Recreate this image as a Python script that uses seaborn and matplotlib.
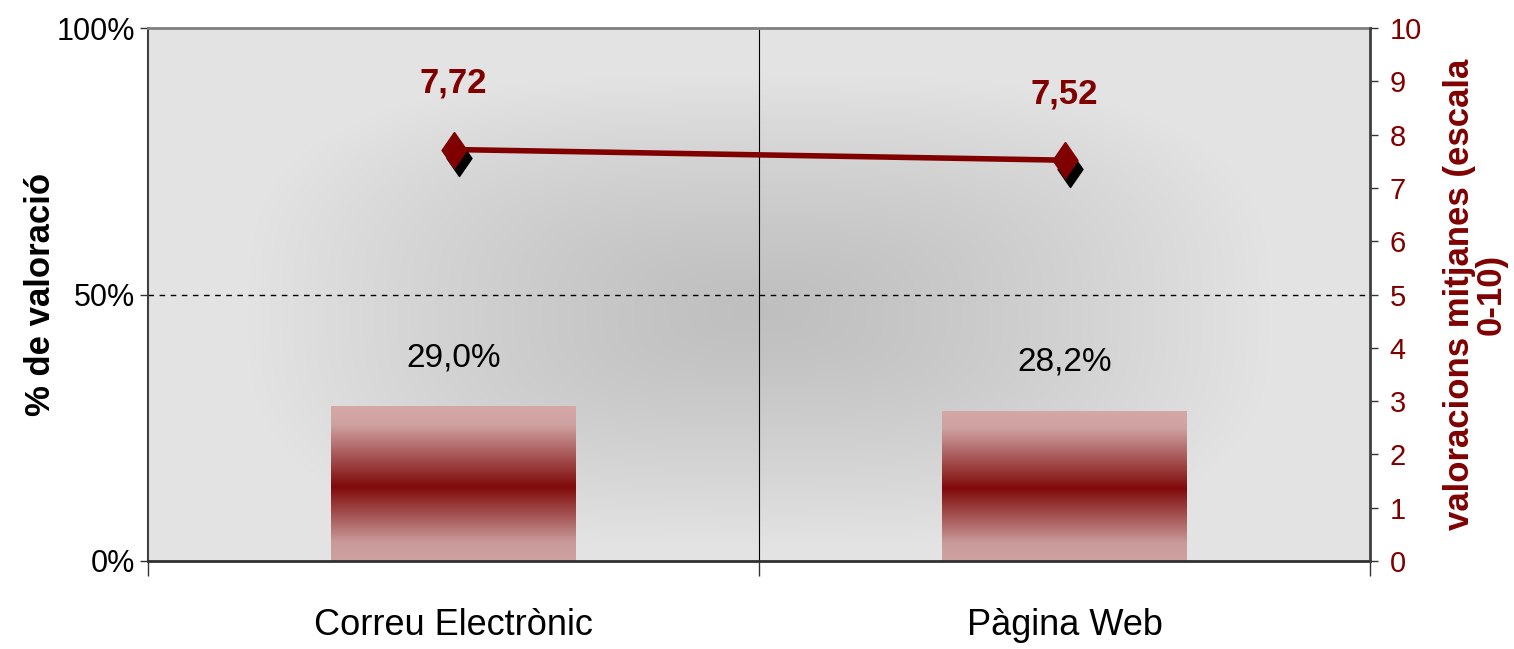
import numpy as np
import pandas as pd
import matplotlib
matplotlib.use("Agg")
import matplotlib.pyplot as plt
import seaborn as sns
from matplotlib.transforms import ScaledTranslation
from matplotlib.colors import LinearSegmentedColormap

# ---------------- data ----------------
categories = ["Correu Electrònic", "Pàgina Web"]
pct_values = [29.0, 28.2]
mean_scores = [7.72, 7.52]
left_ticks = [0, 50, 100]
left_tick_labels = ["0%", "50%", "100%"]
right_ticks = list(range(0, 11))

sns.set_style("white")
plt.rcParams['font.family'] = ['Liberation Sans', 'DejaVu Sans']
plt.rcParams['text.color'] = 'black'
plt.rcParams['axes.labelcolor'] = 'black'
plt.rcParams['xtick.color'] = 'black'
plt.rcParams['ytick.color'] = 'black'

DARK_RED = '#800000'
df = pd.DataFrame({'cat': categories, 'pct': pct_values, 'score': mean_scores})
xpos = np.arange(len(categories))

fig = plt.figure(figsize=(15.14, 6.49), dpi=100)
ax = fig.add_axes([148 / 1514, 1 - 561 / 649, (1370 - 148) / 1514, (561 - 28) / 649])

# background gradient (from centre)
yy, xx = np.mgrid[0:1:400j, 0:1:800j]
dx = np.abs(xx - 0.5) / 0.5
dy = np.abs(yy - 0.47) / 0.53
d = (dx ** 3 + dy ** 3) ** (1 / 3)
d = np.clip(d / 0.85, 0, 1)
bg = 0.75 + (0.893 - 0.75) * d ** 1.3
ax.imshow(np.dstack([bg] * 3), extent=[-0.5, 1.5, 0, 100], aspect='auto',
          zorder=0, interpolation='bilinear', origin='lower')

# bars
sns.barplot(data=df, x='cat', y='pct', ax=ax, width=0.4, color=DARK_RED, zorder=2)
bar_cmap = LinearSegmentedColormap.from_list(
    'bar', [(0.0, '#cfa1a1'), (0.12, '#c99a9a'), (0.48, '#800a0a'),
            (0.88, '#cfa1a1'), (1.0, '#d5a7a7')])
grad = np.linspace(0, 1, 256).reshape(-1, 1)
for p in list(ax.patches):
    x0, w, h = p.get_x(), p.get_width(), p.get_height()
    im = ax.imshow(grad, cmap=bar_cmap, extent=[x0, x0 + w, 0, h], origin='lower',
                   aspect='auto', zorder=2, interpolation='bilinear')
    im.set_clip_path(p)
    p.set_facecolor('none')
    p.set_edgecolor('none')
    ax.annotate(f"{h:.1f}%".replace('.', ','), (x0 + w / 2, h), xytext=(0, 35),
                textcoords='offset points', ha='center', va='center', fontsize=24,
                color='black')

ax.axhline(50, color='black', lw=1, ls=(0, (4, 4)), zorder=1.5)
ax.axvline(0.5, color='black', lw=0.8, zorder=1.5)

ax.set_xlim(-0.5, 1.5)
ax.set_ylim(0, 100)
ax.set_yticks(left_ticks, left_tick_labels)
ax.set_xticks([-0.5, 0.5, 1.5], ['', '', ''])
ax.set_xticks(xpos, categories, minor=True)
ax.tick_params(axis='x', which='major', bottom=True, length=11, width=1,
               color='#333333', direction='out')
ax.tick_params(axis='x', which='minor', bottom=True, length=0, pad=34, labelsize=26,
               labelcolor='black')
ax.tick_params(axis='y', left=True, length=6, width=1, color='#333333',
               direction='out', pad=3, labelsize=22, labelcolor='black')
ax.set_xlabel('')
ax.set_ylabel('% de valoració', fontsize=25, fontweight='bold', color='black')
ax.yaxis.set_label_coords(-0.088, 0.5)
ax.yaxis.label.set_va('center')

for s, c, lw in [('top', '#808080', 2), ('left', '#404040', 1.5),
                 ('bottom', '#303030', 2)]:
    ax.spines[s].set_color(c)
    ax.spines[s].set_linewidth(lw)
ax.spines['right'].set_visible(False)

# line on secondary axis
diamond = [(0, 1), (0.69, 0), (0, -1), (-0.69, 0), (0, 1)]
ax2 = ax.twinx()
sns.lineplot(x=xpos, y=mean_scores, ax=ax2, color=DARK_RED, lw=4, zorder=3)
shadow = ax2.transData + ScaledTranslation(4 / 72, -6 / 72, fig.dpi_scale_trans)
ax2.plot(xpos, mean_scores, ls='none', marker=diamond, ms=26, color='black',
         transform=shadow, zorder=3.5)
ax2.plot(xpos, mean_scores, ls='none', marker=diamond, ms=26, color=DARK_RED,
         mec=DARK_RED, zorder=4)
for xv, v in zip(xpos, mean_scores):
    ax2.annotate(f"{v:.2f}".replace('.', ','), (xv, v), xytext=(0, 48),
                 textcoords='offset points', ha='center', va='center',
                 fontsize=25, fontweight='bold', color=DARK_RED)

ax2.set_xlim(-0.5, 1.5)
ax2.set_ylim(0, 10)
ax2.set_yticks(right_ticks)
ax2.tick_params(axis='y', right=True, length=6, width=1, color='#333333',
                direction='out', pad=8, labelsize=21, labelcolor=DARK_RED)
ax2.set_ylabel("valoracions mitjanes (escala\n0-10)", color=DARK_RED, fontsize=25,
               fontweight='bold', linespacing=0.95, multialignment='center')
ax2.yaxis.set_label_coords((1475 - 148) / 1222, 0.5)
ax2.yaxis.label.set_va('center')
ax2.yaxis.label.set_ha('center')
for s in ['top', 'left', 'bottom']:
    ax2.spines[s].set_visible(False)
ax2.spines['right'].set_color('#404040')
ax2.spines['right'].set_linewidth(2)

fig.savefig('out.png', dpi=100)
